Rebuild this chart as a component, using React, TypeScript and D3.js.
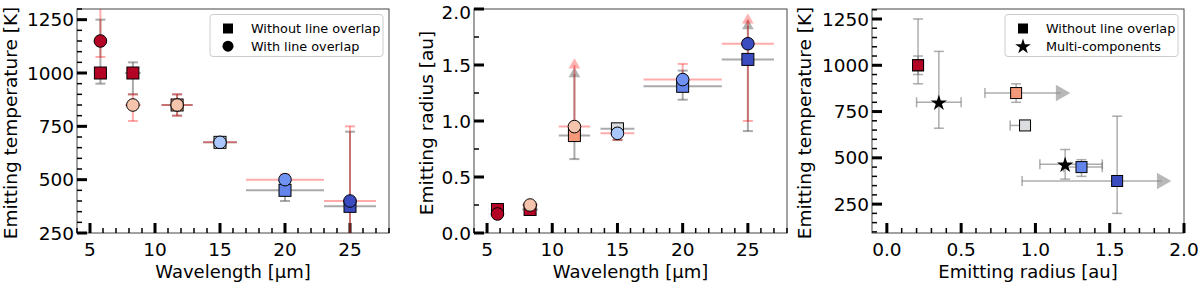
import React from "react";
import * as d3 from "d3";

// wavelength bins (µm) and their half widths
const wavelength = [5.8, 8.3, 11.7, 15, 20, 25];
const wavelengthErr = [0.5, 0.6, 1.2, 1.3, 3, 2];

// emitting temperature [K]
const tempNoOverlap = [1000, 1000, 850, 675, 450, 375];
const tempNoOverlapLo = [950, 900, 800, 670, 400, 150];
const tempNoOverlapHi = [1250, 1050, 900, 680, 490, 725];
const tempOverlap = [1150, 850, 850, 675, 500, 400];
const tempOverlapLo = [1075, 775, 800, 670, 485, 150];
const tempOverlapHi = [1400, 900, 900, 680, 525, 750];

// emitting radius [au]
const radiusNoOverlap = [0.21, 0.21, 0.87, 0.93, 1.31, 1.55];
const radiusNoOverlapLo = [0.2, 0.2, 0.66, 0.83, 1.19, 0.91];
const radiusNoOverlapHi = [0.22, 0.22, 1.42, 0.95, 1.45, 1.85];
const radiusOverlap = [0.17, 0.25, 0.95, 0.89, 1.37, 1.69];
const radiusOverlapLo = [0.16, 0.24, 0.95, 0.83, 1.26, 1.0];
const radiusOverlapHi = [0.18, 0.26, 1.5, 0.91, 1.51, 1.9];
const radiusLowerLimit = [false, false, true, false, false, true];

// panel 3: radius error used in the T-R plane
const radiusHiP3 = [0.22, 0.22, 1.17, 0.95, 1.45, 1.85];

// multi-component fits
const starRadius = [0.35, 1.2];
const starRadiusLo = [0.2, 1.03];
const starRadiusHi = [0.5, 1.45];
const starTemp = [800, 465];
const starTempLo = [660, 385];
const starTempHi = [1075, 545];

const squareColors = ["#b40426", "#b40426", "#f4987a", "#dcdde1", "#6384eb", "#3b4cc0"];
const circleColors = ["#b40426", "#f5c4ac", "#f5c4ac", "#aac7fd", "#6f92f3", "#3b4cc0"];

// ticks
const wlTicks = [5, 10, 15, 20, 25];
const tempTicks = [250, 500, 750, 1000, 1250];
const radiusTicks = [0.0, 0.5, 1.0, 1.5, 2.0];

const FONT = "DejaVu Sans, sans-serif";
const GRAY = "#555";
const RED = "#ff0000";

type Box = { left: number; right: number; top: number; bottom: number };

const box1: Box = { left: 77, right: 389, top: 9, bottom: 233 };
const box2: Box = { left: 474, right: 787, top: 9, bottom: 233 };
const box3: Box = { left: 872, right: 1184, top: 9, bottom: 233 };

const x1 = d3.scaleLinear().domain([4, 28]).range([box1.left, box1.right]);
const y1 = d3.scaleLinear().domain([250, 1300]).range([box1.bottom, box1.top]);
const x2 = d3.scaleLinear().domain([4, 28]).range([box2.left, box2.right]);
const y2 = d3.scaleLinear().domain([0, 2]).range([box2.bottom, box2.top]);
const x3 = d3.scaleLinear().domain([-0.1, 2.0]).range([box3.left, box3.right]);
const y3 = d3.scaleLinear().domain([94, 1304]).range([box3.bottom, box3.top]);

const triUp = (s: number) => d3.symbol(d3.symbolTriangle, s)() as string;
const starPath = d3.symbol(d3.symbolStar, 62)() as string;
const squareLegend = d3.symbol(d3.symbolSquare, 100)() as string;

function Axes(props: {
  box: Box; x: any; y: any; xMajor: number[]; xMinor: number[]; yMajor: number[]; yMinor: number[];
  xFmt: (v: number) => string; yFmt: (v: number) => string; xLabel: string; yLabel: string; yLabelX: number;
}) {
  const { box, x, y } = props;
  return (
    <g>
      <rect x={box.left} y={box.top} width={box.right - box.left} height={box.bottom - box.top}
        fill="none" stroke="#444" strokeWidth={1} />
      {props.xMinor.map((v) => (
        <line key={"xm" + v} x1={x(v)} x2={x(v)} y1={box.bottom} y2={box.bottom - 5} stroke="#000" strokeWidth={1.5} />
      ))}
      {props.xMajor.map((v) => (
        <line key={"xM" + v} x1={x(v)} x2={x(v)} y1={box.bottom} y2={box.bottom - 10} stroke="#000" strokeWidth={3} />
      ))}
      {props.yMinor.map((v) => (
        <line key={"ym" + v} x1={box.left} x2={box.left + 5} y1={y(v)} y2={y(v)} stroke="#000" strokeWidth={1.5} />
      ))}
      {props.yMajor.map((v) => (
        <line key={"yM" + v} x1={box.left} x2={box.left + 10} y1={y(v)} y2={y(v)} stroke="#000" strokeWidth={3} />
      ))}
      {props.xMajor.map((v) => (
        <text key={"xt" + v} x={x(v)} y={256} textAnchor="middle" fontSize={18.5} fontFamily={FONT}>{props.xFmt(v)}</text>
      ))}
      {props.yMajor.map((v) => (
        <text key={"yt" + v} x={box.left - 3} y={Math.max(y(v), 12)} dy="0.36em" textAnchor="end" fontSize={18.5} fontFamily={FONT}>{props.yFmt(v)}</text>
      ))}
      <text x={(box.left + box.right) / 2} y={278} textAnchor="middle" fontSize={18} fontFamily={FONT}>{props.xLabel}</text>
      <text transform={`translate(${props.yLabelX},${(box.top + box.bottom) / 2 + 2}) rotate(-90)`} textAnchor="middle"
        fontSize={18.5} fontFamily={FONT}>{props.yLabel}</text>
    </g>
  );
}

function ErrBar(p: {
  cx: number; cy: number; xa: number; xb: number; ya: number; yb: number; color: string; op: number; lw: number;
  cap: number; xCaps?: boolean; yCapTop?: boolean; upArrow?: number; rightArrow?: number; arrowColor?: string; arrowOp?: number;
}) {
  const yCapTop = p.yCapTop !== false;
  return (
    <g stroke={p.color} strokeOpacity={p.op} strokeWidth={p.lw} fill="none">
      <line x1={p.xa} x2={p.xb} y1={p.cy} y2={p.cy} />
      <line x1={p.cx} x2={p.cx} y1={p.ya} y2={p.yb} />
      {p.ya !== p.cy && <line x1={p.cx - p.cap} x2={p.cx + p.cap} y1={p.ya} y2={p.ya} />}
      {yCapTop && p.yb !== p.cy && <line x1={p.cx - p.cap} x2={p.cx + p.cap} y1={p.yb} y2={p.yb} />}
      {p.xCaps && <line x1={p.xa} x2={p.xa} y1={p.cy - p.cap} y2={p.cy + p.cap} />}
      {p.xCaps && p.rightArrow === undefined && <line x1={p.xb} x2={p.xb} y1={p.cy - p.cap} y2={p.cy + p.cap} />}
      {p.upArrow !== undefined && (
        <path d={triUp(60)} transform={`translate(${p.cx},${p.upArrow})`} fill={p.arrowColor} fillOpacity={p.arrowOp} stroke="none" />
      )}
      {p.rightArrow !== undefined && (
        <path d={triUp(120)} transform={`translate(${p.rightArrow},${p.cy}) rotate(90)`} fill={p.arrowColor}
          fillOpacity={p.arrowOp} stroke="none" />
      )}
    </g>
  );
}

function Legend(p: { x: number; entries: { kind: string; label: string }[] }) {
  return (
    <g>
      <rect x={p.x} y={14.5} width={173} height={42} rx={3} fill="#fff" fillOpacity={0.85} stroke="#ccc" strokeWidth={1} />
      {p.entries.map((e, i) => {
        const cy = 28.5 + i * 17.7;
        return (
          <g key={e.label}>
            {e.kind === "square" && <path d={squareLegend} transform={`translate(${p.x + 18},${cy})`} fill="#000" />}
            {e.kind === "circle" && <circle cx={p.x + 18} cy={cy} r={5.5} fill="#000" />}
            {e.kind === "star" && <path d={starPath} transform={`translate(${p.x + 18},${cy + 0.5}) scale(1.1)`} fill="#000" />}
            <text x={p.x + 41} y={cy + 4.6} fontSize={12.8} fontFamily={FONT}>{e.label}</text>
          </g>
        );
      })}
    </g>
  );
}

const clip = (id: string, b: Box) => (
  <clipPath id={id}>
    <rect x={b.left} y={b.top} width={b.right - b.left} height={b.bottom - b.top} />
  </clipPath>
);

export default function App() {
  const idx = d3.range(wavelength.length);
  const wlMinor = d3.range(4, 28.01, 1);
  const tMinor1 = d3.range(300, 1300.1, 50);
  const rMinor2 = d3.range(0, 2.01, 0.25);
  const rMinor3 = d3.range(0, 2.01, 0.1);
  const tMinor3 = d3.range(100, 1300.1, 50);

  return (
    <svg width={1200} height={282} style={{ position: "absolute", left: 0, top: 0, background: "#fff" }}>
      <defs>
        {clip("c1", box1)}
        {clip("c2", box2)}
        {clip("c3", box3)}
      </defs>

      {/* Panel 1: temperature vs wavelength */}
      <Axes box={box1} x={x1} y={y1} xMajor={wlTicks} xMinor={wlMinor} yMajor={tempTicks} yMinor={tMinor1}
        xFmt={(v) => String(v)} yFmt={(v) => String(v)} xLabel="Wavelength [µm]" yLabel="Emitting temperature [K]" yLabelX={17} />
      <g clipPath="url(#c1)">
        {idx.map((i) => (
          <ErrBar key={"e1s" + i} cx={x1(wavelength[i])} cy={y1(tempNoOverlap[i])}
            xa={x1(wavelength[i] - wavelengthErr[i])} xb={x1(wavelength[i] + wavelengthErr[i])}
            ya={y1(tempNoOverlapLo[i])} yb={y1(tempNoOverlapHi[i])} color={GRAY} op={0.5} lw={2} cap={5} />
        ))}
        {idx.map((i) => (
          <ErrBar key={"e1c" + i} cx={x1(wavelength[i])} cy={y1(tempOverlap[i])}
            xa={x1(wavelength[i] - wavelengthErr[i])} xb={x1(wavelength[i] + wavelengthErr[i])}
            ya={y1(tempOverlapLo[i])} yb={y1(tempOverlapHi[i])} color={RED} op={0.33} lw={2} cap={5} />
        ))}
        {idx.map((i) => (
          <rect key={"s1" + i} x={x1(wavelength[i]) - 6} y={y1(tempNoOverlap[i]) - 6} width={12} height={12}
            fill={squareColors[i]} stroke="#000" strokeWidth={1} />
        ))}
        {idx.map((i) => (
          <circle key={"c1" + i} cx={x1(wavelength[i])} cy={y1(tempOverlap[i])} r={6.3}
            fill={circleColors[i]} stroke="#000" strokeWidth={1} />
        ))}
      </g>
      <Legend x={210} entries={[{ kind: "square", label: "Without line overlap" }, { kind: "circle", label: "With line overlap" }]} />

      {/* Panel 2: radius vs wavelength */}
      <Axes box={box2} x={x2} y={y2} xMajor={wlTicks} xMinor={wlMinor} yMajor={radiusTicks} yMinor={rMinor2}
        xFmt={(v) => String(v)} yFmt={(v) => v.toFixed(1)} xLabel="Wavelength [µm]" yLabel="Emitting radius [au]" yLabelX={433} />
      <g clipPath="url(#c2)">
        {idx.map((i) => (
          <ErrBar key={"e2s" + i} cx={x2(wavelength[i])} cy={y2(radiusNoOverlap[i])}
            xa={x2(wavelength[i] - wavelengthErr[i])} xb={x2(wavelength[i] + wavelengthErr[i])}
            ya={y2(radiusNoOverlapLo[i])} yb={y2(radiusNoOverlapHi[i])} color={GRAY} op={0.5} lw={2} cap={5}
            yCapTop={!radiusLowerLimit[i]} upArrow={radiusLowerLimit[i] ? y2(radiusNoOverlapHi[i]) : undefined}
            arrowColor={GRAY} arrowOp={0.45} />
        ))}
        {idx.map((i) => (
          <ErrBar key={"e2c" + i} cx={x2(wavelength[i])} cy={y2(radiusOverlap[i])}
            xa={x2(wavelength[i] - wavelengthErr[i])} xb={x2(wavelength[i] + wavelengthErr[i])}
            ya={y2(radiusOverlapLo[i])} yb={y2(radiusOverlapHi[i])} color={RED} op={0.33} lw={2} cap={5}
            yCapTop={!radiusLowerLimit[i]} upArrow={radiusLowerLimit[i] ? y2(radiusOverlapHi[i]) : undefined}
            arrowColor={RED} arrowOp={0.3} />
        ))}
        {idx.map((i) => (
          <rect key={"s2" + i} x={x2(wavelength[i]) - 6} y={y2(radiusNoOverlap[i]) - 6} width={12} height={12}
            fill={squareColors[i]} stroke="#000" strokeWidth={1} />
        ))}
        {idx.map((i) => (
          <circle key={"c2" + i} cx={x2(wavelength[i])} cy={y2(radiusOverlap[i])} r={6.3}
            fill={circleColors[i]} stroke="#000" strokeWidth={1} />
        ))}
      </g>

      {/* Panel 3: temperature vs radius */}
      <Axes box={box3} x={x3} y={y3} xMajor={radiusTicks} xMinor={rMinor3} yMajor={tempTicks} yMinor={tMinor3}
        xFmt={(v) => v.toFixed(1)} yFmt={(v) => String(v)} xLabel="Emitting radius [au]" yLabel="Emitting temperature [K]" yLabelX={811} />
      <g clipPath="url(#c3)">
        {idx.map((i) => (
          <ErrBar key={"e3s" + i} cx={x3(radiusNoOverlap[i])} cy={y3(tempNoOverlap[i])}
            xa={x3(radiusNoOverlapLo[i])} xb={x3(radiusHiP3[i])}
            ya={y3(tempNoOverlapLo[i] < 200 ? 200 : tempNoOverlapLo[i])} yb={y3(tempNoOverlapHi[i])}
            color="#777" op={0.6} lw={1.5} cap={5} xCaps
            rightArrow={radiusLowerLimit[i] ? x3(radiusHiP3[i]) : undefined} arrowColor="#888" arrowOp={0.6} />
        ))}
        {starRadius.map((r, i) => (
          <ErrBar key={"e3k" + i} cx={x3(r)} cy={y3(starTemp[i])} xa={x3(starRadiusLo[i])} xb={x3(starRadiusHi[i])}
            ya={y3(starTempLo[i])} yb={y3(starTempHi[i])} color="#777" op={0.6} lw={1.5} cap={5} xCaps />
        ))}
        {idx.map((i) => (
          <rect key={"s3" + i} x={x3(radiusNoOverlap[i]) - 5.5} y={y3(tempNoOverlap[i]) - 5.5} width={11} height={11}
            fill={squareColors[i]} stroke="#000" strokeWidth={1} />
        ))}
        {starRadius.map((r, i) => (
          <path key={"k3" + i} d={starPath} transform={`translate(${x3(r)},${y3(starTemp[i]) + 0.8}) scale(1.15)`} fill="#000" />
        ))}
      </g>
      <Legend x={1005} entries={[{ kind: "square", label: "Without line overlap" }, { kind: "star", label: "Multi-components" }]} />
    </svg>
  );
}
